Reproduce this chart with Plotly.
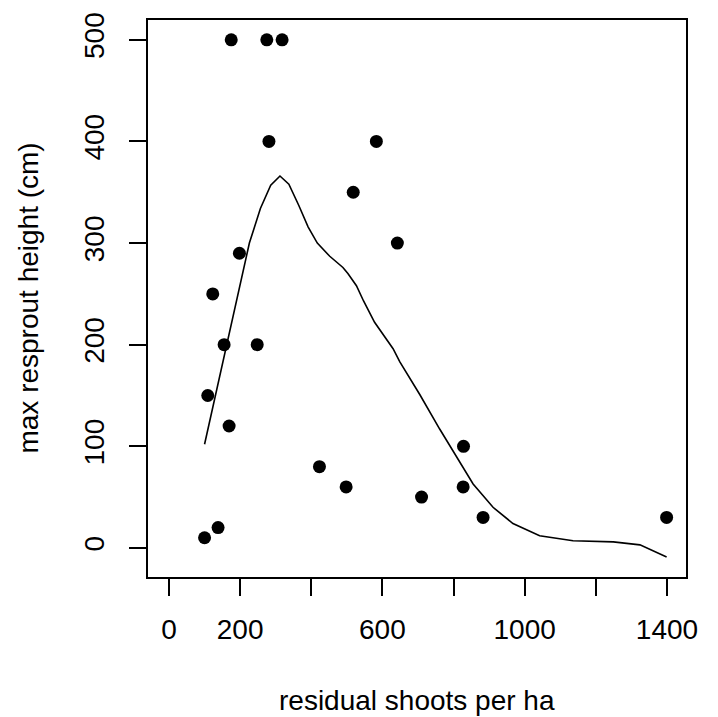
import plotly.graph_objects as go

# scatter data
shoots = [175, 275, 318, 281, 583, 518, 642, 198, 123, 155, 248, 109, 169,
          423, 498, 710, 138, 100, 828, 827, 883, 1399]
height = [500, 500, 500, 400, 400, 350, 300, 290, 250, 200, 200, 150, 120,
          80, 60, 50, 20, 10, 100, 60, 30, 30]

# smoothed curve
curve_x = [100, 189, 226, 257, 286, 312, 337, 365, 391, 417, 452, 489, 503,
           527, 547, 578, 630, 649, 705, 761, 813, 855, 911, 967, 1042, 1136,
           1249, 1324, 1399]
curve_y = [102, 243, 300, 334, 357, 366, 358, 337, 316, 300, 287, 276, 270,
           258, 243, 222, 196, 183, 151, 117, 87, 63, 40, 24, 12, 7,
           6, 3, -9]

x_ticks = [0, 200, 400, 600, 800, 1000, 1200, 1400]
x_ticktext = ["0", "200", "", "600", "", "1000", "", "1400"]
y_ticks = [0, 100, 200, 300, 400, 500]

FONT = "Liberation Sans, Arial, Helvetica, sans-serif"

fig = go.Figure()
fig.add_trace(go.Scatter(x=curve_x, y=curve_y, mode="lines",
                         line=dict(color="black", width=1.6),
                         hoverinfo="skip", showlegend=False))
fig.add_trace(go.Scatter(x=shoots, y=height, mode="markers",
                         marker=dict(color="black", size=13),
                         showlegend=False))

axis_common = dict(showgrid=False, zeroline=False, showline=True, mirror=True,
                   linecolor="black", linewidth=1.8, ticks="outside",
                   ticklen=17, tickwidth=1.8, tickcolor="black",
                   tickfont=dict(family=FONT, size=28, color="black"))

fig.update_xaxes(range=[-59, 1453.5], tickmode="array", tickvals=x_ticks,
                 ticktext=x_ticktext, ticklabelstandoff=9, **axis_common)
fig.update_yaxes(range=[-28.6, 519.5], tickmode="array", tickvals=y_ticks,
                 ticktext=[str(v) for v in y_ticks], tickangle=-90,
                 ticklabelstandoff=14, **axis_common)

fig.update_layout(
    width=718, height=717,
    margin=dict(l=148, r=32, t=15, b=140),
    plot_bgcolor="white", paper_bgcolor="white",
    font=dict(family=FONT, size=28, color="black"),
    annotations=[
        dict(text="residual shoots per ha", xref="paper", yref="paper",
             x=0.5, y=-0.2224, xanchor="center", yanchor="middle",
             showarrow=False, font=dict(family=FONT, size=28, color="black")),
        dict(text="max resprout height (cm)", xref="paper", yref="paper",
             x=-0.2230, y=0.5, xanchor="center", yanchor="middle",
             textangle=-90, showarrow=False,
             font=dict(family=FONT, size=28, color="black")),
    ],
)

fig.write_html("out.html")
